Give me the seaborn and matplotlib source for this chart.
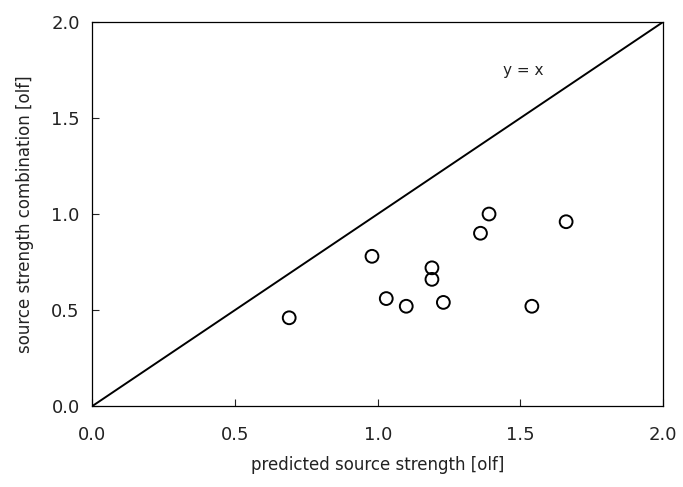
import matplotlib
matplotlib.use("Agg")
import matplotlib.pyplot as plt
import seaborn as sns
import pandas as pd

predicted = [0.69, 0.98, 1.03, 1.10, 1.19, 1.19, 1.23, 1.36, 1.39, 1.54, 1.66]
combination = [0.46, 0.78, 0.56, 0.52, 0.72, 0.66, 0.54, 0.90, 1.00, 0.52, 0.96]
line_x = [0.0, 2.0]
line_y = [0.0, 2.0]
ticks = [0.0, 0.5, 1.0, 1.5, 2.0]
tick_labels = ["0.0", "0.5", "1.0", "1.5", "2.0"]

sns.set_theme(style="ticks")
plt.rcParams['font.family'] = ['DejaVu Sans']

df = pd.DataFrame({"predicted": predicted, "combination": combination})
line_df = pd.DataFrame({"x": line_x, "y": line_y})

fig = plt.figure(figsize=(6.83, 4.87), dpi=100)
ax = fig.add_axes([0.135, 0.166, 0.836, 0.789])

sns.lineplot(data=line_df, x="x", y="y", ax=ax, color="black", linewidth=1.4)
sns.scatterplot(data=df, x="predicted", y="combination", ax=ax, s=85,
                facecolors="none", edgecolor="black", linewidth=1.4, marker="o")
ax.text(1.44, 1.745, "y = x", fontsize=11, color="#222222", va="center")

ax.set_xlim(0, 2)
ax.set_ylim(0, 2)
ax.set_xticks(ticks)
ax.set_xticklabels(tick_labels)
ax.set_yticks(ticks)
ax.set_yticklabels(tick_labels)
ax.tick_params(direction="in", length=5, width=0.8, labelsize=13, colors="#222222")
ax.tick_params(axis="x", pad=14)
ax.tick_params(axis="y", pad=9)
for s in ax.spines.values():
    s.set_linewidth(0.9)
    s.set_color("black")
ax.set_xlabel("predicted source strength [olf]", fontsize=12, color="#222222", labelpad=9)
ax.set_ylabel("source strength combination [olf]", fontsize=12, color="#222222", labelpad=12)

fig.savefig("out.png", dpi=100)
